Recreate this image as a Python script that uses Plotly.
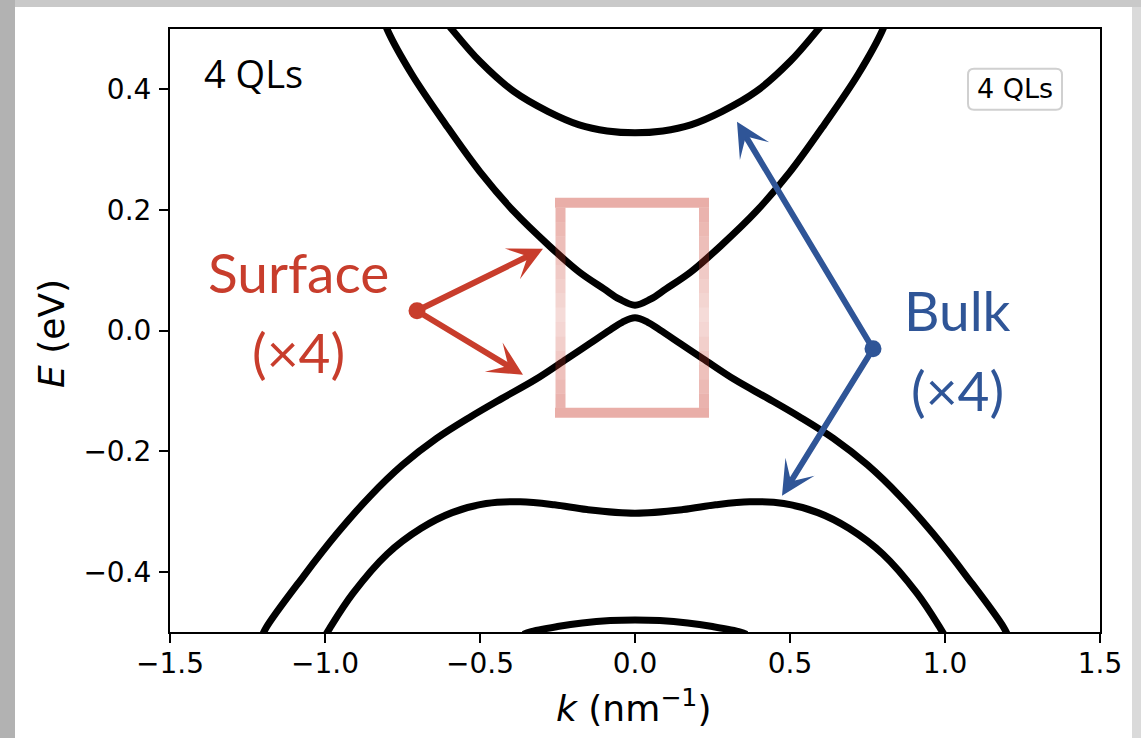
import plotly.graph_objects as go

# ---------------- data (k in nm^-1, E in eV) ----------------
cb_k = [-0.61, -0.59, -0.50, -0.39, -0.28, -0.18, -0.09, 0.0, 0.09, 0.18, 0.28, 0.39, 0.50, 0.59, 0.61]
cb_E = [0.512, 0.499, 0.446, 0.396, 0.363, 0.341, 0.331, 0.328, 0.331, 0.341, 0.363, 0.396, 0.446, 0.499, 0.512]

ssu_k = [-0.81, -0.80, -0.72, -0.61, -0.50, -0.39, -0.28, -0.18, -0.10, -0.05, 0.0,
         0.05, 0.10, 0.18, 0.28, 0.39, 0.50, 0.61, 0.72, 0.80, 0.81]
ssu_E = [0.515, 0.500, 0.425, 0.341, 0.263, 0.197, 0.142, 0.097, 0.069, 0.052, 0.042,
         0.052, 0.069, 0.097, 0.142, 0.197, 0.263, 0.341, 0.425, 0.500, 0.515]

ssd_k = [-1.21, -1.19, -1.07, -0.96, -0.855, -0.75, -0.64, -0.53, -0.43, -0.32, -0.22, -0.15, -0.08, -0.04, 0.0,
         0.04, 0.08, 0.15, 0.22, 0.32, 0.43, 0.53, 0.64, 0.75, 0.855, 0.96, 1.07, 1.19, 1.21]
ssd_E = [-0.515, -0.493, -0.408, -0.336, -0.275, -0.223, -0.179, -0.143, -0.113, -0.081, -0.047, -0.023, 0.001, 0.014, 0.021,
         0.014, 0.001, -0.023, -0.047, -0.081, -0.113, -0.143, -0.179, -0.223, -0.275, -0.336, -0.408, -0.493, -0.515]

vb_k = [-1.0, -0.984, -0.91, -0.80, -0.69, -0.59, -0.48, -0.37, -0.26, -0.155, 0.0,
        0.155, 0.26, 0.37, 0.48, 0.59, 0.69, 0.80, 0.91, 0.984, 1.0]
vb_E = [-0.507, -0.493, -0.436, -0.371, -0.328, -0.302, -0.287, -0.284, -0.289, -0.297, -0.303,
        -0.297, -0.289, -0.284, -0.287, -0.302, -0.328, -0.371, -0.436, -0.493, -0.507]

vb2_k = [-0.36, -0.34, -0.25, -0.17, -0.08, 0.0, 0.08, 0.17, 0.25, 0.34, 0.36]
vb2_E = [-0.504, -0.500, -0.491, -0.485, -0.481, -0.480, -0.481, -0.485, -0.491, -0.500, -0.504]

x_ticks = [-1.5, -1.0, -0.5, 0.0, 0.5, 1.0, 1.5]
y_ticks = [-0.4, -0.2, 0.0, 0.2, 0.4]

bands = [(cb_k, cb_E), (ssu_k, ssu_E), (ssd_k, ssd_E), (vb_k, vb_E), (vb2_k, vb2_E)]

# ---------------- figure ----------------
W, H = 1141, 738
L, R, T, B = 170, 41, 29, 106
RED = "#C83D2C"
BLUE = "#2F5597"

fig = go.Figure()
for kk, ee in bands:
    fig.add_trace(go.Scatter(x=kk, y=ee, mode="lines", line=dict(color="black", width=7, shape="spline"),
                             showlegend=False, hoverinfo="skip"))

# pixel -> data helpers for decorations
def kx(p):
    return (p - 635.0) / 310.0

def ey(p):
    return (330.7 - p) / 603.0

def pxp(p):
    return (p - L) / (W - L - R)

def pyp(p):
    return (H - B - p) / (H - T - B)

shapes = []
# background frame
shapes.append(dict(type="rect", xref="paper", yref="paper", x0=pxp(-5), x1=pxp(15), y0=pyp(745), y1=pyp(-5),
                   fillcolor="#b2b2b2", line_width=0, layer="below"))
shapes.append(dict(type="rect", xref="paper", yref="paper", x0=pxp(15), x1=pxp(1146), y0=pyp(7), y1=pyp(-5),
                   fillcolor="#c9c9c9", line_width=0, layer="below"))
shapes.append(dict(type="rect", xref="paper", yref="paper", x0=pxp(1132), x1=pxp(1146), y0=pyp(745), y1=pyp(7),
                   fillcolor="#dadada", line_width=0, layer="below"))
shapes.append(dict(type="rect", xref="paper", yref="paper", x0=pxp(15), x1=pxp(1132), y0=pyp(745), y1=pyp(7),
                   fillcolor="white", line_width=0, layer="below"))

# pink highlight rectangle with vertical fade
def pink(a):
    return f"rgba(201,58,43,{a:.3f})"

shapes.append(dict(type="line", x0=kx(555), x1=kx(709), y0=ey(203), y1=ey(203), line=dict(color=pink(0.41), width=10), layer="above"))
shapes.append(dict(type="line", x0=kx(555), x1=kx(709), y0=ey(413), y1=ey(413), line=dict(color=pink(0.41), width=10), layer="above"))
nseg = 14
top, bot, mid = 208.0, 408.0, 318.0
for i in range(nseg):
    ya = top + (bot - top) * i / nseg
    yb = top + (bot - top) * (i + 1) / nseg
    yc = 0.5 * (ya + yb)
    if yc < mid:
        a = 0.40 - 0.22 * (yc - top) / (mid - top)
    else:
        a = 0.18 + 0.22 * (yc - mid) / (bot - mid)
    for xs in (560.5, 704.0):
        shapes.append(dict(type="line", x0=kx(xs), x1=kx(xs), y0=ey(ya), y1=ey(yb),
                           line=dict(color=pink(a), width=10), layer="above"))

# dots at arrow origins
for (cx, cy, col) in [(417, 311, RED), (873, 349, BLUE)]:
    shapes.append(dict(type="circle", xsizemode="pixel", ysizemode="pixel", xanchor=kx(cx), yanchor=ey(cy),
                       x0=-8.5, x1=8.5, y0=-8.5, y1=8.5, fillcolor=col, line_width=0, layer="above"))

# legend-like rounded box
x0, x1, yt, yb = kx(968), kx(1062), ey(69), ey(110)
rx, ry = 6 / 310.0, 6 / 603.0
path = (f"M{x0+rx},{yt} L{x1-rx},{yt} Q{x1},{yt} {x1},{yt-ry} L{x1},{yb+ry} Q{x1},{yb} {x1-rx},{yb} "
        f"L{x0+rx},{yb} Q{x0},{yb} {x0},{yb+ry} L{x0},{yt-ry} Q{x0},{yt} {x0+rx},{yt} Z")
shapes.append(dict(type="path", path=path, fillcolor="white", line=dict(color="#d0d0d0", width=2), layer="above"))

annotations = []
# arrows
for (tx, ty, hx, hy, col) in [(417, 311, 543, 249, RED), (417, 311, 523, 375, RED),
                              (873, 349, 737, 122, BLUE), (873, 349, 782, 496, BLUE)]:
    annotations.append(dict(x=kx(hx), y=ey(hy), ax=kx(tx), ay=ey(ty), axref="x", ayref="y", xref="x", yref="y",
                            text="", showarrow=True, arrowhead=3, arrowsize=0.95, arrowwidth=6,
                            arrowcolor=col, standoff=0, startstandoff=0))

def txt(s, x, y, size, color, family):
    return dict(x=kx(x), y=ey(y), xref="x", yref="y", text=s, showarrow=False,
                font=dict(size=size, color=color, family=family), xanchor="center", yanchor="middle")

annotations.append(txt("Surface", 298, 272, 55, RED, "Lato"))
annotations.append(txt("(×4)", 298, 352, 55, RED, "Lato"))
annotations.append(txt("Bulk", 957, 310, 55, BLUE, "Lato"))
annotations.append(txt("(×4)", 957, 390, 55, BLUE, "Lato"))
annotations.append(txt("4 QLs", 253, 73, 38, "black", "Open Sans"))
annotations.append(txt("4 QLs", 1015, 89, 27, "black", "DejaVu Sans"))

# axis titles
annotations.append(dict(xref="paper", yref="paper", x=pxp(633), y=pyp(706), text="<i>k</i> (nm<sup>−1</sup>)",
                        showarrow=False, font=dict(size=36, family="DejaVu Sans", color="black"),
                        xanchor="center", yanchor="middle"))
annotations.append(dict(xref="paper", yref="paper", x=pxp(52), y=pyp(333), text="<i>E</i> (eV)", textangle=-90,
                        showarrow=False, font=dict(size=36, family="DejaVu Sans", color="black"),
                        xanchor="center", yanchor="middle"))

axis_common = dict(showgrid=False, zeroline=False, showline=True, linecolor="black", linewidth=2, mirror=True,
                   ticks="outside", ticklen=9, tickwidth=2, tickcolor="black",
                   tickfont=dict(family="DejaVu Sans", size=28, color="black"), tickformat=".1f")

fig.update_layout(
    width=W, height=H, margin=dict(l=L, r=R, t=T, b=B),
    paper_bgcolor="#c0c0c0", plot_bgcolor="white",
    xaxis=dict(range=[-1.5, 1.5], tickvals=x_ticks, ticklabelstandoff=-4, **axis_common),
    yaxis=dict(range=[-0.5, 0.5], tickvals=y_ticks, ticklabelstandoff=2, **axis_common),
    shapes=shapes, annotations=annotations, showlegend=False,
)

fig.write_html("out.html")
